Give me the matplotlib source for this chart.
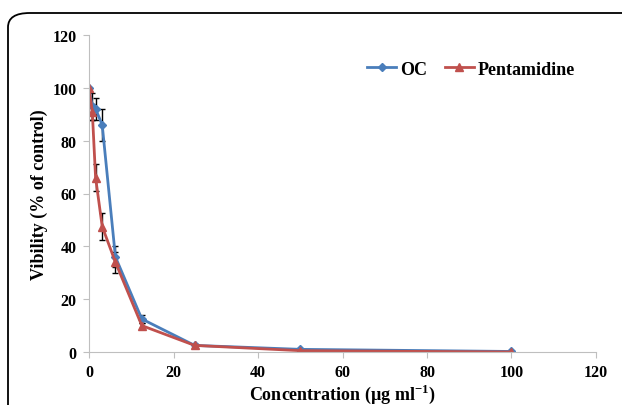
import numpy as np
import matplotlib.pyplot as plt
from matplotlib.patches import FancyBboxPatch
from matplotlib.lines import Line2D

# data
conc = [0, 0.78, 1.56, 3.125, 6.25, 12.5, 25, 50, 100]
oc = [100, 93, 92, 86, 36, 12.5, 2.5, 1.0, 0.2]
oc_err = [0, 5, 4, 6, 4, 1.5, 0.5, 0.3, 0.2]
pent = [100, 91, 66, 47.5, 34, 10, 2.5, 0.5, 0]
pent_err = [0, 3, 5, 5, 4, 1, 0.5, 0.2, 0]

plt.rcParams['font.family'] = ['Liberation Serif', 'DejaVu Serif']
plt.rcParams['font.weight'] = 'bold'
plt.rcParams['mathtext.fontset'] = 'custom'
plt.rcParams['mathtext.bf'] = 'Liberation Serif:bold'
plt.rcParams['mathtext.rm'] = 'Liberation Serif:bold'

fig = plt.figure(figsize=(6.22, 4.06), dpi=100)
fig.patches.append(FancyBboxPatch((8 / 622, -0.1), 1.2, 1.1 - 14 / 406,
                                  boxstyle='round,pad=0,rounding_size=0.035',
                                  transform=fig.transFigure, fill=False,
                                  edgecolor='black', linewidth=1.3))
ax = fig.add_axes([89 / 622, 1 - 353 / 406, 507 / 622, 317 / 406])

blue = '#4a7ebb'
red = '#c0504d'
ax.errorbar(conc, oc, yerr=oc_err, color=blue, marker='D', markersize=4,
            linewidth=2, ecolor='black', elinewidth=1, capsize=2)
ax.errorbar(conc, pent, yerr=pent_err, color=red, marker='^', markersize=6,
            linewidth=2, ecolor='black', elinewidth=1, capsize=2)

ax.set_xlim(0, 120)
ax.set_ylim(0, 120)
ax.set_xticks(np.arange(0, 121, 20))
ax.set_yticks(np.arange(0, 121, 20))
for s in ['top', 'right']:
    ax.spines[s].set_visible(False)
for s in ['left', 'bottom']:
    ax.spines[s].set_color('#bfbfbf')
ax.tick_params(colors='#bfbfbf', labelcolor='black', labelsize=11.5, length=4,
               direction='out', pad=5)
for t in ax.get_xticklabels() + ax.get_yticklabels():
    t.set_fontweight('bold')
ax.set_xlabel('Concentration (µg ml$^{-1}$)', fontsize=13, fontweight='bold', labelpad=1)
ax.set_ylabel('Vibility (% of control)', fontsize=13, fontweight='bold', labelpad=3)

handles = [Line2D([], [], color=blue, marker='D', markersize=4, linewidth=2),
           Line2D([], [], color=red, marker='^', markersize=6, linewidth=2)]
ax.legend(handles, ['OC', 'Pentamidine'], loc='upper right',
          bbox_to_anchor=(0.99, 0.97), frameon=False, ncol=2,
          prop={'size': 13, 'weight': 'bold'}, handlelength=1.6,
          columnspacing=1.0, handletextpad=0.2)

plt.savefig('out.png', dpi=100)
